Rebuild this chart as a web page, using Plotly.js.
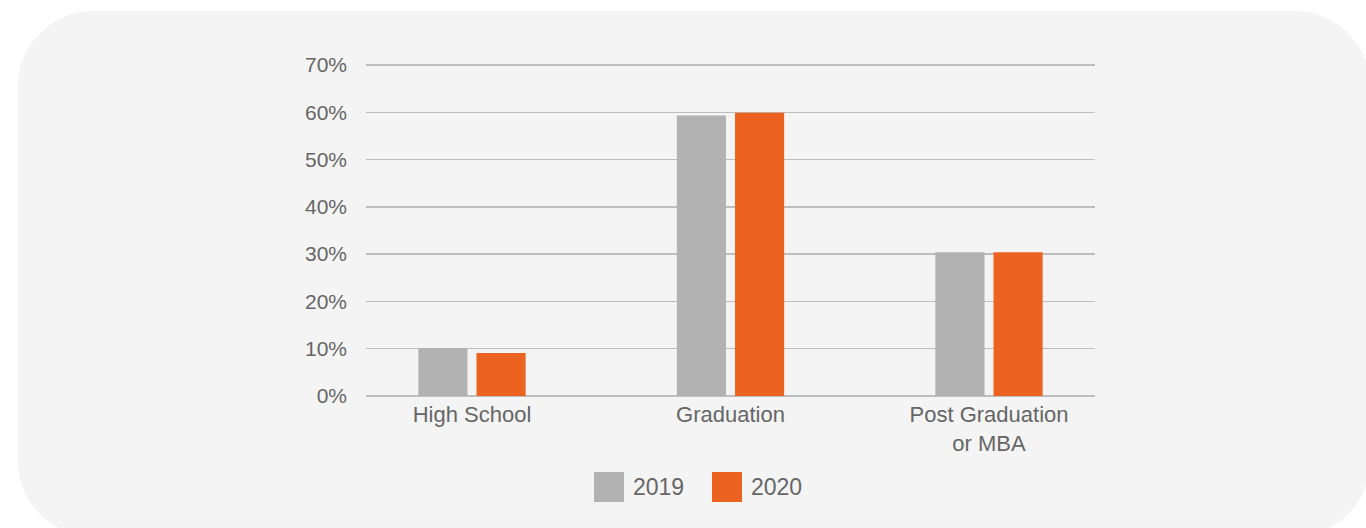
<!DOCTYPE html>
<html>
<head>
<meta charset="utf-8">
<script src="https://cdn.plot.ly/plotly-3.0.1.min.js"></script>
<style>
  html, body { margin: 0; padding: 0; background: #ffffff; overflow: hidden; }
  #card {
    position: absolute; left: 18px; top: 11px; width: 1352px; height: 525px;
    background: #f4f4f4; border-radius: 75px;
  }
  #chart { position: absolute; left: 0; top: 0; width: 1366px; height: 528px; }
</style>
</head>
<body>
<div id="card"></div>
<div id="chart"></div>
<script>
// Education level share, by survey year
const categories = ["High School", "Graduation", "Post Graduation<br>or MBA"];
const years = ["2019", "2020"];
const values2019 = [10.1, 59.3, 30.4];
const values2020 = [9.1, 59.9, 30.4];
const yTickVals = [0, 10, 20, 30, 40, 50, 60, 70];
const yTickText = ["0%", "10%", "20%", "30%", "40%", "50%", "60%", "70%"];

const colors = ["#b2b2b2", "#ec6220"];
const textColor = "#666666";
const gridColor = "#bdbdbd";
const fontFamily = "'Liberation Sans', Arial, sans-serif";

const W = 1366, H = 528;
const margin = { l: 366, r: 271, t: 62, b: 132 };
const yMax = 70.63; // headroom above 70% so the top grid line is kept
const barWidth = 0.19, barGap = 0.035;

const series = [values2019, values2020];
const traces = series.map((vals, i) => ({
  type: "bar",
  name: years[i],
  x: categories,
  y: vals,
  width: barWidth,
  offset: i === 0 ? -(barWidth + barGap / 2) : barGap / 2,
  marker: { color: colors[i], line: { width: 0 } },
  showlegend: false,
  hovertemplate: "%{y:.1f}%<extra>" + years[i] + "</extra>"
}));

// Legend: large swatches with labels, centred under the plot
const plotW = W - margin.l - margin.r;
const plotH = H - margin.t - margin.b;
const px2x = px => (px - margin.l) / plotW;
const px2y = py => (H - margin.b - py) / plotH;
const swatch = 30;
const legendLeft = [594, 712];
const legendMidY = 487;
const shapes = years.map((y, i) => ({
  type: "rect", xref: "paper", yref: "paper",
  x0: px2x(legendLeft[i]), x1: px2x(legendLeft[i] + swatch),
  y0: px2y(legendMidY + swatch / 2), y1: px2y(legendMidY - swatch / 2),
  fillcolor: colors[i], line: { width: 0 }
}));
const annotations = years.map((y, i) => ({
  xref: "paper", yref: "paper",
  x: px2x(legendLeft[i] + swatch + 7), y: px2y(legendMidY),
  xanchor: "left", yanchor: "middle",
  text: y, showarrow: false,
  font: { family: fontFamily, size: 23, color: textColor }
}));

const layout = {
  width: W, height: H,
  margin: margin,
  paper_bgcolor: "rgba(0,0,0,0)",
  plot_bgcolor: "rgba(0,0,0,0)",
  font: { family: fontFamily, size: 22, color: textColor },
  barmode: "overlay",
  xaxis: {
    type: "category",
    range: [-0.41, 2.41],
    showgrid: false, zeroline: false, showline: false,
    ticks: "", ticklabelstandoff: 3,
    tickfont: { family: fontFamily, size: 22, color: textColor },
    fixedrange: true
  },
  yaxis: {
    range: [0, yMax],
    tickvals: yTickVals, ticktext: yTickText,
    showgrid: true, gridcolor: gridColor, gridwidth: 1.4,
    zeroline: true, zerolinecolor: gridColor, zerolinewidth: 1.4,
    showline: false,
    ticks: "", ticklabelstandoff: 18,
    tickfont: { family: fontFamily, size: 21, color: textColor },
    fixedrange: true
  },
  shapes: shapes,
  annotations: annotations,
  showlegend: false
};

Plotly.newPlot("chart", traces, layout, { displayModeBar: false, staticPlot: true });
</script>
</body>
</html>
